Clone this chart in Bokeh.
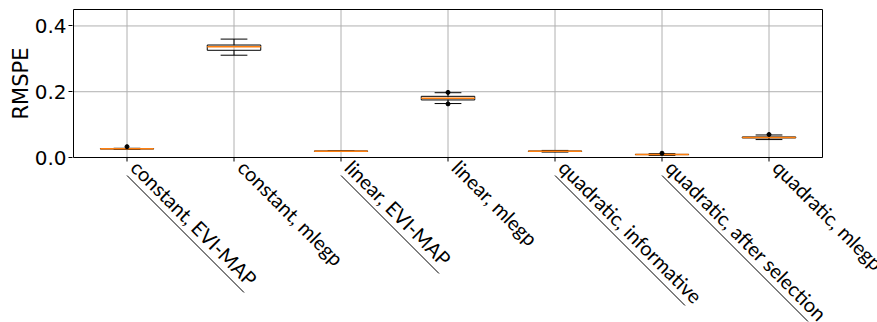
import math
from bokeh.plotting import figure
from bokeh.models import Range1d, FixedTicker, PrintfTickFormatter, ColumnDataSource, Title
from bokeh.core.properties import value
from bokeh.embed import file_html
from bokeh.resources import INLINE

# ---- data ----
categories = ["constant, EVI-MAP", "constant, mlegp", "linear, EVI-MAP", "linear, mlegp",
              "quadratic, informative", "quadratic, after selection", "quadratic, mlegp"]
underlined = [True, False, True, False, True, True, False]
q1 = [0.0262, 0.326, 0.0188, 0.175, 0.0185, 0.0087, 0.0595]
med = [0.0265, 0.337, 0.0191, 0.180, 0.0190, 0.0091, 0.0606]
q3 = [0.0268, 0.342, 0.0195, 0.186, 0.0195, 0.0095, 0.0625]
whisk_lo = [0.0250, 0.311, 0.0185, 0.164, 0.0165, 0.0065, 0.0545]
whisk_hi = [0.0280, 0.360, 0.0200, 0.197, 0.0215, 0.0115, 0.0685]
flier_cat = [1, 4, 4, 6, 7]
flier_val = [0.033, 0.198, 0.163, 0.013, 0.070]
y_ticks = [0.0, 0.2, 0.4]
y_max = 0.45
y_label = "RMSPE"

# ---- layout constants ----
W, H = 877, 322
LEFT = 72
TOP = 9                    # px above y_max
PXX = 1.0 / 107.0          # data units per pixel (x)
PXY = y_max / 148.0        # data units per pixel (y)
x0 = 0.5 - PXX
x1 = x0 + (W - LEFT) * PXX
y1 = y_max + TOP * PXY
y0 = y1 - H * PXY
ul_len = [117, 0, 98, 0, 130, 146, 0]   # underline length in px (45 deg)

p = figure(width=W, height=H, x_range=Range1d(x0, x1), y_range=Range1d(y0, y1),
           x_axis_location=None, toolbar_location=None, output_backend="svg",
           min_border_left=LEFT, min_border_right=0, min_border_top=0, min_border_bottom=0,
           outline_line_color=None, background_fill_color="white", border_fill_color="white")
p.xgrid.visible = False
p.ygrid.visible = False

ya = p.yaxis[0]
ya.ticker = FixedTicker(ticks=y_ticks)
ya.formatter = PrintfTickFormatter(format="%.1f")
ya.axis_line_color = None
ya.major_tick_out = 4
ya.major_tick_in = 0
ya.minor_tick_line_color = None
ya.major_tick_line_color = "black"
ya.major_label_standoff = 2
ya.major_label_text_font = "DejaVu Sans"
ya.major_label_text_font_size = "20px"
ya.major_label_text_color = "black"

# y label as a left title; its top end placed so it is centred on the value area
p.add_layout(Title(text=y_label, align="right", offset=47, standoff=-3,
                   text_font="DejaVu Sans", text_font_size="21px", text_font_style="normal",
                   text_color="black"), "left")

n = len(categories)
xs = list(range(1, n + 1))

# grid lines
grid_color = "#b0b0b0"
p.segment(x0=[0.5] * len(y_ticks), x1=[n + 0.5] * len(y_ticks), y0=y_ticks, y1=y_ticks,
          line_color=grid_color, line_width=1)
p.segment(x0=xs, x1=xs, y0=[0] * n, y1=[y_max] * n, line_color=grid_color, line_width=1)

# boxplot
src = ColumnDataSource(dict(x=xs, q1=q1, med=med, q3=q3, lo=whisk_lo, hi=whisk_hi,
                            l=[x - 0.25 for x in xs], r=[x + 0.25 for x in xs],
                            cl=[x - 0.125 for x in xs], cr=[x + 0.125 for x in xs]))
p.segment(x0="x", x1="x", y0="q3", y1="hi", source=src, line_color="black", line_width=1)
p.segment(x0="x", x1="x", y0="q1", y1="lo", source=src, line_color="black", line_width=1)
p.segment(x0="cl", x1="cr", y0="hi", y1="hi", source=src, line_color="black", line_width=1)
p.segment(x0="cl", x1="cr", y0="lo", y1="lo", source=src, line_color="black", line_width=1)
p.quad(left="l", right="r", bottom="q1", top="q3", source=src, fill_color=None,
       line_color="black", line_width=1)
p.segment(x0="l", x1="r", y0="med", y1="med", source=src, line_color="#ff7f0e", line_width=1.5)
p.scatter(x=flier_cat, y=flier_val, size=4, marker="circle", fill_color="black", line_color="black")

# axes frame
p.quad(left=[0.5], right=[n + 0.5], bottom=[0], top=[y_max], fill_color=None,
       line_color="black", line_width=1)

# x tick marks
p.segment(x0=xs, x1=xs, y0=[0] * n, y1=[-4 * PXY] * n, line_color="black", line_width=1)

# category labels (rotated)
lab = ColumnDataSource(dict(x=[x + 16.5 * PXX for x in xs], y=[2.5 * PXY] * n, text=categories))
p.text(x="x", y="y", text="text", source=lab, angle=-math.pi / 4, text_align="left",
       text_baseline="top", text_font=value("Lato"), text_font_size=value("20px"),
       text_color="black")

# underlines
ux0, ux1, uy0, uy1 = [], [], [], []
for x, u, L in zip(xs, underlined, ul_len):
    if u:
        ux0.append(x)
        uy0.append(-18 * PXY)
        ux1.append(x + L * PXX)
        uy1.append(-(18 + L) * PXY)
p.segment(x0=ux0, x1=ux1, y0=uy0, y1=uy1, line_color="black", line_width=1)

open("out.html", "w").write(file_html(p, INLINE))
